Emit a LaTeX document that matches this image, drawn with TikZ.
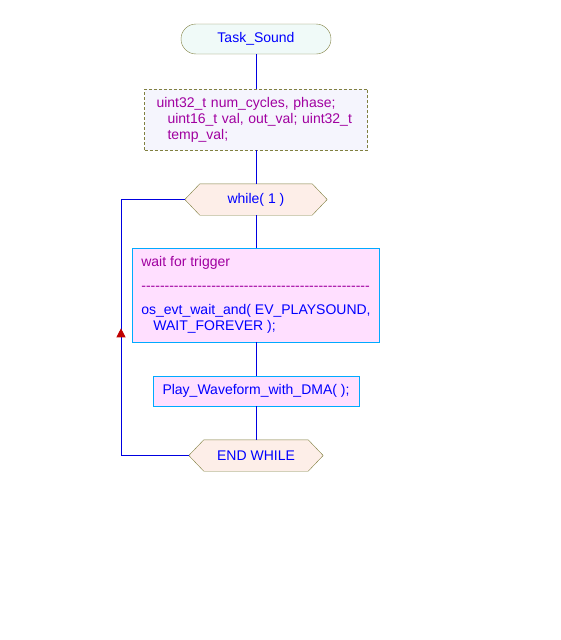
\documentclass[tikz,border=0pt]{standalone}
\usepackage{fontspec}
\setmainfont{Liberation Sans}[Ligatures=TeXOff]
\usetikzlibrary{arrows.meta,decorations.markings,backgrounds}
\definecolor{bordolive}{HTML}{808040}
\definecolor{termfill}{HTML}{F0FAF8}
\definecolor{declfill}{HTML}{F5F5FD}
\definecolor{loopfill}{HTML}{FDEEE8}
\definecolor{boxfill}{HTML}{FFDFFF}
\definecolor{boxline}{HTML}{00AAFF}
\definecolor{codeblue}{HTML}{0000FF}
\definecolor{notepurple}{HTML}{A000A0}
\definecolor{flowblue}{HTML}{0000E0}
\definecolor{arrowred}{HTML}{C00000}
\begin{document}
\begin{tikzpicture}[x=1pt,y=-1pt,
	every node/.style={font=\fontsize{14}{16}\selectfont},
	flow/.style={draw=flowblue,line width=1pt},
	term/.style={draw=bordolive,fill=termfill,rounded corners=15pt,minimum width=150pt,minimum height=30pt,text=codeblue},
	decl/.style={draw=bordolive,dash pattern=on 3pt off 2pt,fill=declfill,text=notepurple,align=left,text width=199pt,inner xsep=12pt,minimum height=61pt},
	hexnode/.style={minimum height=31pt,inner sep=0pt,text=codeblue},
	hexline/.style={draw=bordolive,fill=loopfill},
	stmt/.style={draw=boxline,fill=boxfill,text=codeblue,minimum height=30pt}]
	\useasboundingbox (0,0) rectangle (560,640);

	\node[term] (start) at (256,39) {Task\_Sound};
	\node[decl] (vars) at (256,119.5) {uint32\_t num\_cycles, phase;\\ \hspace*{11pt}uint16\_t val, out\_val; uint32\_t\\ \hspace*{11pt}temp\_val;};
	\node[hexnode,minimum width=142pt] (wh) at (256,199.5) {while( 1 )};
	\node[stmt,align=left,minimum width=247pt,minimum height=94pt] (wait) at (256,295) {\textcolor{notepurple}{wait for trigger}\\[8pt] \textcolor{notepurple}{-------------------------------------------------}\\[8pt] os\_evt\_wait\_and( EV\_PLAYSOUND,\\ \hspace*{12pt}WAIT\_FOREVER );};
	\node[stmt,minimum width=206pt] (play) at (256,391) {Play\_Waveform\_with\_DMA( );};
	\node[hexnode,minimum width=134pt] (ew) at (256,455.5) {END WHILE};

	\begin{scope}[on background layer]
		\draw[hexline] (wh.west) -- ([xshift=15pt]wh.north west) -- ([xshift=-15pt]wh.north east) -- (wh.east) -- ([xshift=-15pt]wh.south east) -- ([xshift=15pt]wh.south west) -- cycle;
		\draw[hexline] (ew.west) -- ([xshift=15pt]ew.north west) -- ([xshift=-15pt]ew.north east) -- (ew.east) -- ([xshift=-15pt]ew.south east) -- ([xshift=15pt]ew.south west) -- cycle;
	\end{scope}

	\draw[flow] (start.south) -- (vars.north);
	\draw[flow] (vars.south) -- (wh.north);
	\draw[flow] (wh.south) -- (wait.north);
	\draw[flow] (wait.south) -- (play.north);
	\draw[flow] (play.south) -- (ew.north);

	\coordinate (lb) at (121,455.5);
	\coordinate (lt) at (121,199.5);
	\draw[flow,postaction={decorate},decoration={markings,mark=at position 195pt with {\arrow{Triangle[width=9pt,length=9pt,color=arrowred]}}}] (ew.west) -- (lb) -- (lt) -- (wh.west);
\end{tikzpicture}
\end{document}
